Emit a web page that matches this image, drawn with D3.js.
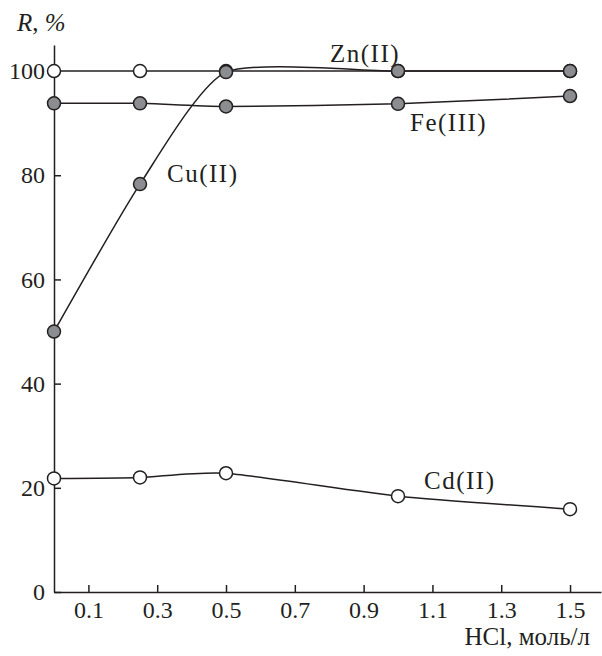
<!DOCTYPE html>
<html>
<head>
<meta charset="utf-8">
<script src="https://cdn.jsdelivr.net/npm/d3@7"></script>
<style>
  body { margin: 0; background: #fff; }
  text { font-family: "Liberation Serif", "DejaVu Serif", serif; fill: #231f20; }
  .axis path, .axis line { stroke: #231f20; stroke-width: 1.5; }
  .axis text { font-family: "Liberation Serif", serif; font-size: 24px; }
</style>
</head>
<body>
<div id="chart"></div>
<script>
// HCl concentration, mol/l
var hcl = [0, 0.25, 0.5, 1.0, 1.5];

// recovery R, %
var zn = [100, 100, 100, 100, 100];
var fe = [93.8, 93.8, 93.2, 93.7, 95.2];
var cu = [50, 78.3, 99.8, 100, 100];
var cd = [21.8, 22.0, 22.8, 18.4, 15.9];

var xTicks = [0.1, 0.3, 0.5, 0.7, 0.9, 1.1, 1.3, 1.5];
var yTicks = [0, 20, 40, 60, 80, 100];

var svgWidth = 602;
var svgHeight = 656;

var svg = d3.select("#chart")
            .append("svg")
            .attr("width", svgWidth)
            .attr("height", svgHeight);

var x = d3.scaleLinear()
          .domain([0, 1.59])
          .range([54, 601]);

var y = d3.scaleLinear()
          .domain([0, 105])
          .range([592, 45]);

var bottomAxis = d3.axisBottom(x)
                   .tickValues(xTicks)
                   .tickFormat(d3.format(".1f"))
                   .tickSizeInner(-7)
                   .tickSizeOuter(0)
                   .tickPadding(9);

var leftAxis = d3.axisLeft(y)
                 .tickValues(yTicks)
                 .tickFormat(d3.format("d"))
                 .tickSizeInner(-7)
                 .tickSizeOuter(0)
                 .tickPadding(9);

svg.append("g")
   .attr("class", "axis")
   .attr("transform", `translate(0, ${y(0)})`)
   .call(bottomAxis);

svg.append("g")
   .attr("class", "axis")
   .attr("transform", `translate(${x(0)}, 0)`)
   .call(leftAxis);

svg.selectAll(".axis .domain").attr("fill", "none");

var line = d3.line()
             .x((d, i) => x(hcl[i]))
             .y(d => y(d))
             .curve(d3.curveCardinal.tension(0.4));

function drawSeries(values, fill) {
    svg.append("path")
       .datum(values)
       .attr("d", line)
       .attr("fill", "none")
       .attr("stroke", "#231f20")
       .attr("stroke-width", 1.5);

    svg.append("g")
       .selectAll("circle")
       .data(values)
       .enter()
       .append("circle")
       .attr("cx", (d, i) => x(hcl[i]))
       .attr("cy", d => y(d))
       .attr("r", 6.5)
       .attr("fill", fill)
       .attr("stroke", "#231f20")
       .attr("stroke-width", 1.5);
}

drawSeries(zn, "#ffffff");
drawSeries(cd, "#ffffff");
drawSeries(fe, "#8c8d90");
drawSeries(cu, "#8c8d90");

// series labels
var labels = [
    {text: "Zn(II)", x: 330, y: 62},
    {text: "Fe(III)", x: 410, y: 131},
    {text: "Cu(II)", x: 167, y: 182},
    {text: "Cd(II)", x: 424, y: 489}
];

svg.selectAll(".series-label")
   .data(labels)
   .enter()
   .append("text")
   .attr("class", "series-label")
   .attr("x", d => d.x)
   .attr("y", d => d.y)
   .attr("font-size", "25px")
   .attr("letter-spacing", "1.5px")
   .text(d => d.text);

// axis titles
var yTitle = svg.append("text")
                .attr("x", 17)
                .attr("y", 31)
                .attr("font-size", "25px");
yTitle.append("tspan").attr("font-style", "italic").text("R");
yTitle.append("tspan").text(", ");
yTitle.append("tspan").attr("font-style", "italic").text("%");

svg.append("text")
   .attr("x", 590)
   .attr("y", 645)
   .attr("text-anchor", "end")
   .attr("font-size", "25px")
   .text("HCl, моль/л");
</script>
</body>
</html>
